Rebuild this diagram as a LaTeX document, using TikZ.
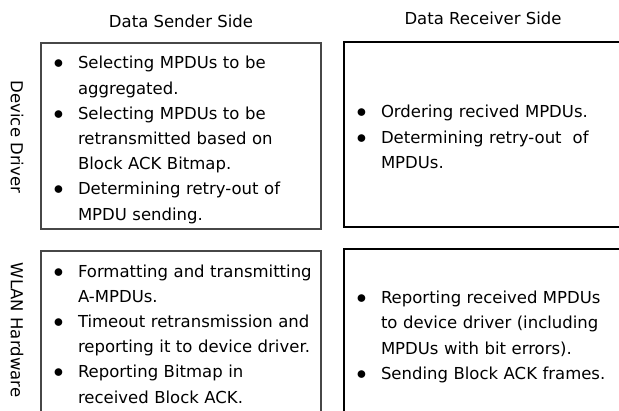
\documentclass[tikz,border=0pt]{standalone}
\usepackage{fontspec}
\setmainfont{DejaVu Sans}
% bullet item with hanging indent, closed as its own paragraph
\newcommand\bitem[1]{\hangindent=25bp\hangafter=1\noindent\makebox[25bp][l]{\hspace{0.5bp}\scalebox{1.15}{$\bullet$}}#1\par}
\begin{document}
\begin{tikzpicture}[x=1bp,y=-1bp,
  every node/.style={inner sep=0pt, outer sep=0pt},
  txt/.style={font=\fontsize{16.5bp}{25.2bp}\selectfont},
  listbox/.style={txt, text width=270bp, align=left, anchor=west},
  sendframe/.style={draw=black!72, line width=1.3bp},
  recvframe/.style={draw=black, line width=1.3bp}]
\useasboundingbox (0,0) rectangle (619,410);
\clip (0,0) rectangle (619,410);

% column headings
\node[txt] (hsend) at (181,21) {Data Sender Side};
\node[txt] (hrecv) at (483,18) {Data Receiver Side};

% row headings
\node[txt, rotate=-90] (rdrv) at (17,137) {Device Driver};
\node[txt, rotate=-90] (rhw)  at (17,330) {WLAN Hardware};

% frames
\draw[sendframe] (41,43) rectangle (321,229);
\draw[recvframe] (630,42) -- (344,42) -- (344,227) -- (630,227);
\draw[sendframe] (41,420) -- (41,251) -- (321,251) -- (321,420);
\draw[recvframe] (630,249) -- (344,249) -- (344,420);

% contents
\node[listbox] (ddsend) at (53,140) {%
  \bitem{Selecting MPDUs to be\newline aggregated.}%
  \bitem{Selecting MPDUs to be\newline retransmitted based on\newline Block ACK Bitmap.}%
  \bitem{Determining retry-out of\newline MPDU sending.}};

\node[listbox] (ddrecv) at (356,137) {%
  \bitem{Ordering recived MPDUs.}%
  \bitem{Determining retry-out~ of\newline MPDUs.}};

\node[listbox] (hwsend) at (53,334) {%
  \bitem{Formatting and transmitting\newline A-MPDUs.}%
  \bitem{Timeout retransmission and\newline reporting it to device driver.}%
  \bitem{Reporting Bitmap in\newline received Block ACK.}};

\node[listbox] (hwrecv) at (356,337) {%
  \bitem{Reporting received MPDUs\newline to device driver (including\newline MPDUs with bit errors).}%
  \bitem{Sending Block ACK frames.}};
\end{tikzpicture}
\end{document}
